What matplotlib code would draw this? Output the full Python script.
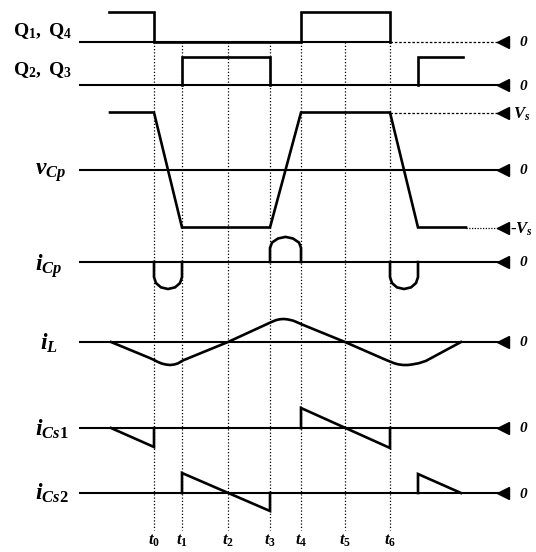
import matplotlib.pyplot as plt

plt.rcParams['mathtext.fontset'] = 'custom'
plt.rcParams['mathtext.rm'] = 'Liberation Serif:bold'
plt.rcParams['mathtext.it'] = 'Liberation Serif:italic:bold'
plt.rcParams['mathtext.bf'] = 'Liberation Serif:bold'

# time instants t0..t6 (horizontal position in the diagram)
t_marks = [154, 182, 228, 270, 301, 345, 390]
t_names = [r'$t_0$', r'$t_1$', r'$t_2$', r'$t_3$', r'$t_4$', r'$t_5$', r'$t_6$']

# gate signals
q14_t = [109, 154, 154, 301, 301, 390, 390]
q14_v = [1, 1, 0, 0, 1, 1, 0]
q23_t = [182, 182, 270, 270]
q23_v = [0, 1, 1, 0]
q23b_t = [418, 418, 463]
q23b_v = [0, 1, 1]

# voltage across Cp (+1 = Vs, -1 = -Vs)
vcp_t = [110, 154, 182, 270, 301, 390, 418, 466]
vcp_v = [1, 1, -1, -1, 1, 1, -1, -1]

# current through Cp: three rounded pulses
icp1_t = [154, 154, 156, 161, 168, 175, 180, 182, 182]
icp1_v = [0, -0.56, -0.78, -0.94, -1.0, -0.94, -0.78, -0.56, 0]
icp2_t = [270, 270, 272, 278, 285.5, 293, 299, 301, 301]
icp2_v = [0, 0.52, 0.72, 0.87, 0.93, 0.87, 0.72, 0.52, 0]
icp3_t = [390, 390, 392, 397, 404, 411, 416, 418, 418]
icp3_v = [0, -0.56, -0.78, -0.94, -1.0, -0.94, -0.78, -0.56, 0]

# inductor current
il_t = [111, 150, 154, 158, 162, 166, 170, 174, 178, 183, 228,
        268, 272, 276, 280, 284, 288, 293, 297, 301, 345,
        386, 390, 394, 398, 403, 408, 413, 419, 426, 461]
il_v = [0, -0.7, -0.78, -0.87, -0.94, -0.98, -1.0, -0.98, -0.93, -0.8, 0,
        0.8, 0.88, 0.95, 0.99, 1.0, 0.98, 0.93, 0.86, 0.78, 0,
        -0.78, -0.85, -0.92, -0.97, -1.0, -1.0, -0.97, -0.92, -0.82, 0]

# snubber capacitor currents
ics1a_t = [111, 154, 154]
ics1a_v = [0, -0.95, 0]
ics1b_t = [301, 301, 390, 390]
ics1b_v = [0, 1, -1, 0]
ics2a_t = [182, 182, 270, 270]
ics2a_v = [0, 1, -0.9, 0]
ics2b_t = [418, 418, 461]
ics2b_v = [0, 0.95, 0]

# row layout: baseline y and scale (pixels)
rows = {
    'q14': (42, 30), 'q23': (85, 28), 'vcp': (170, 57.5), 'icp': (262, 27),
    'il': (342, 23), 'ics1': (428, 20), 'ics2': (493, 20),
}

fig = plt.figure(figsize=(5.36, 5.52), dpi=100)
ax = fig.add_axes([0, 0, 1, 1])
ax.set_xlim(0, 536)
ax.set_ylim(552, 0)
ax.axis('off')

LW = 1.9
BLW = 1.5
x0, x_end = 80, 498


def yv(row, vals):
    b, s = rows[row]
    return [b - s * v for v in vals]


# dotted time markers
for t in t_marks:
    ax.plot([t, t], [42, 530], color='black', lw=0.9, ls=(0, (1, 1.6)))

# baselines + arrows + "0"
for key in rows:
    b = rows[key][0]
    if key == 'q14':
        ax.plot([x0, 390], [b, b], color='black', lw=BLW)
        ax.plot([390, x_end], [b, b], color='black', lw=0.9, ls=(0, (2, 1.5)))
    else:
        ax.plot([x0, x_end], [b, b], color='black', lw=BLW)
    ax.plot(503, b, marker='<', ms=9, color='black')
    ax.text(523, b + 1, '0', fontsize=11, family='Liberation Serif',
            style='italic', weight='bold', ha='center', va='center')

# Vs / -Vs reference lines
vs_y, ms_y = yv('vcp', [1, -1])
ax.plot([390, x_end], [vs_y, vs_y], color='black', lw=0.9, ls=(0, (2, 1.5)))
ax.plot(503, vs_y, marker='<', ms=9, color='black')
ax.text(513, vs_y + 1, r'$V_s$', fontsize=12, ha='left', va='center')
ax.plot([466, x_end], [ms_y, ms_y], color='black', lw=0.9, ls=(0, (1, 1.2)))
ax.plot(503, ms_y, marker='<', ms=9, color='black')
ax.text(510, ms_y + 1, r'$\text{-}V_s$', fontsize=12, ha='left', va='center')

# waveforms
traces = [
    ('q14', q14_t, q14_v), ('q23', q23_t, q23_v), ('q23', q23b_t, q23b_v),
    ('vcp', vcp_t, vcp_v),
    ('icp', icp1_t, icp1_v), ('icp', icp2_t, icp2_v), ('icp', icp3_t, icp3_v),
    ('il', il_t, il_v),
    ('ics1', ics1a_t, ics1a_v), ('ics1', ics1b_t, ics1b_v),
    ('ics2', ics2a_t, ics2a_v), ('ics2', ics2b_t, ics2b_v),
]
for key, ts, vs in traces:
    ax.plot(ts, yv(key, vs), color='black', lw=LW, solid_joinstyle='miter')

# left labels
ax.text(13, 31, r'$\mathrm{Q}_{1}\mathrm{,\ Q}_{4}$', fontsize=14, va='center')
ax.text(13, 70, r'$\mathrm{Q}_{2}\mathrm{,\ Q}_{3}$', fontsize=14, va='center')
ax.text(35, 172, r'$v_{Cp}$', fontsize=17, va='center')
ax.text(35, 266, r'$i_{Cp}$', fontsize=17, va='center')
ax.text(40, 343, r'$i_{L}$', fontsize=17, va='center')
ax.text(35, 429, r'$i_{Cs1}$', fontsize=17, va='center')
ax.text(35, 493, r'$i_{Cs2}$', fontsize=17, va='center')

# time labels
for t, name in zip(t_marks, t_names):
    ax.text(t, 540, name, fontsize=12, ha='center', va='center')

fig.savefig('out.png', dpi=100)
